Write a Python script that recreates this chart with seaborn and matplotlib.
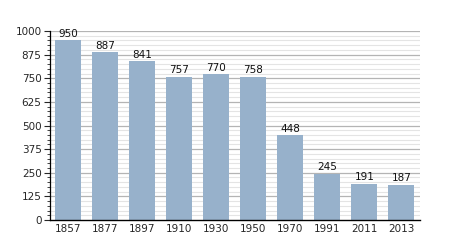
import matplotlib
matplotlib.use("Agg")
import matplotlib.pyplot as plt
import seaborn as sns
import pandas as pd
import numpy as np
from matplotlib.ticker import MultipleLocator

years = ["1857", "1877", "1897", "1910", "1930", "1950", "1970", "1991", "2011", "2013"]
population = [950, 887, 841, 757, 770, 758, 448, 245, 191, 187]

sns.set_theme(style="white")
plt.rcParams['font.family'] = ['DejaVu Sans']

df = pd.DataFrame({"year": years, "pop": population})

fig = plt.figure(figsize=(4.5, 2.5), dpi=100)
ax = fig.add_axes([0.111, 0.12, 0.822, 0.756])

for y in np.arange(25, 1001, 25):
    if y % 125 == 0:
        ax.axhline(y, color="#b4b4b4", lw=0.9, zorder=0)
    else:
        ax.axhline(y, color="#e4e4e4", lw=0.8, zorder=0)

sns.barplot(data=df, x="year", y="pop", color="#97b1cb", saturation=1,
            width=0.7, ax=ax, zorder=2, edgecolor="none", linewidth=0)

for i, v in enumerate(population):
    ax.text(i, v + 8, str(v), ha="center", va="bottom", fontsize=7.5, color="#111111")

ax.set_ylim(0, 1000)
ax.set_xlim(-0.5, len(years) - 0.5)
ax.yaxis.set_major_locator(MultipleLocator(125))
ax.yaxis.set_minor_locator(MultipleLocator(25))
ax.tick_params(axis="y", which="major", length=4, width=0.8, labelsize=7.5, pad=2, left=True)
ax.tick_params(axis="y", which="minor", length=2, width=0.6, left=True)
ax.tick_params(axis="x", length=0, labelsize=7.5, pad=3)
ax.set_xlabel("")
ax.set_ylabel("")
for s in ["top", "right"]:
    ax.spines[s].set_visible(False)
ax.spines["left"].set_color("black")
ax.spines["bottom"].set_color("black")
ax.spines["left"].set_linewidth(0.9)
ax.spines["bottom"].set_linewidth(1.0)

fig.savefig("out.png", dpi=100)
